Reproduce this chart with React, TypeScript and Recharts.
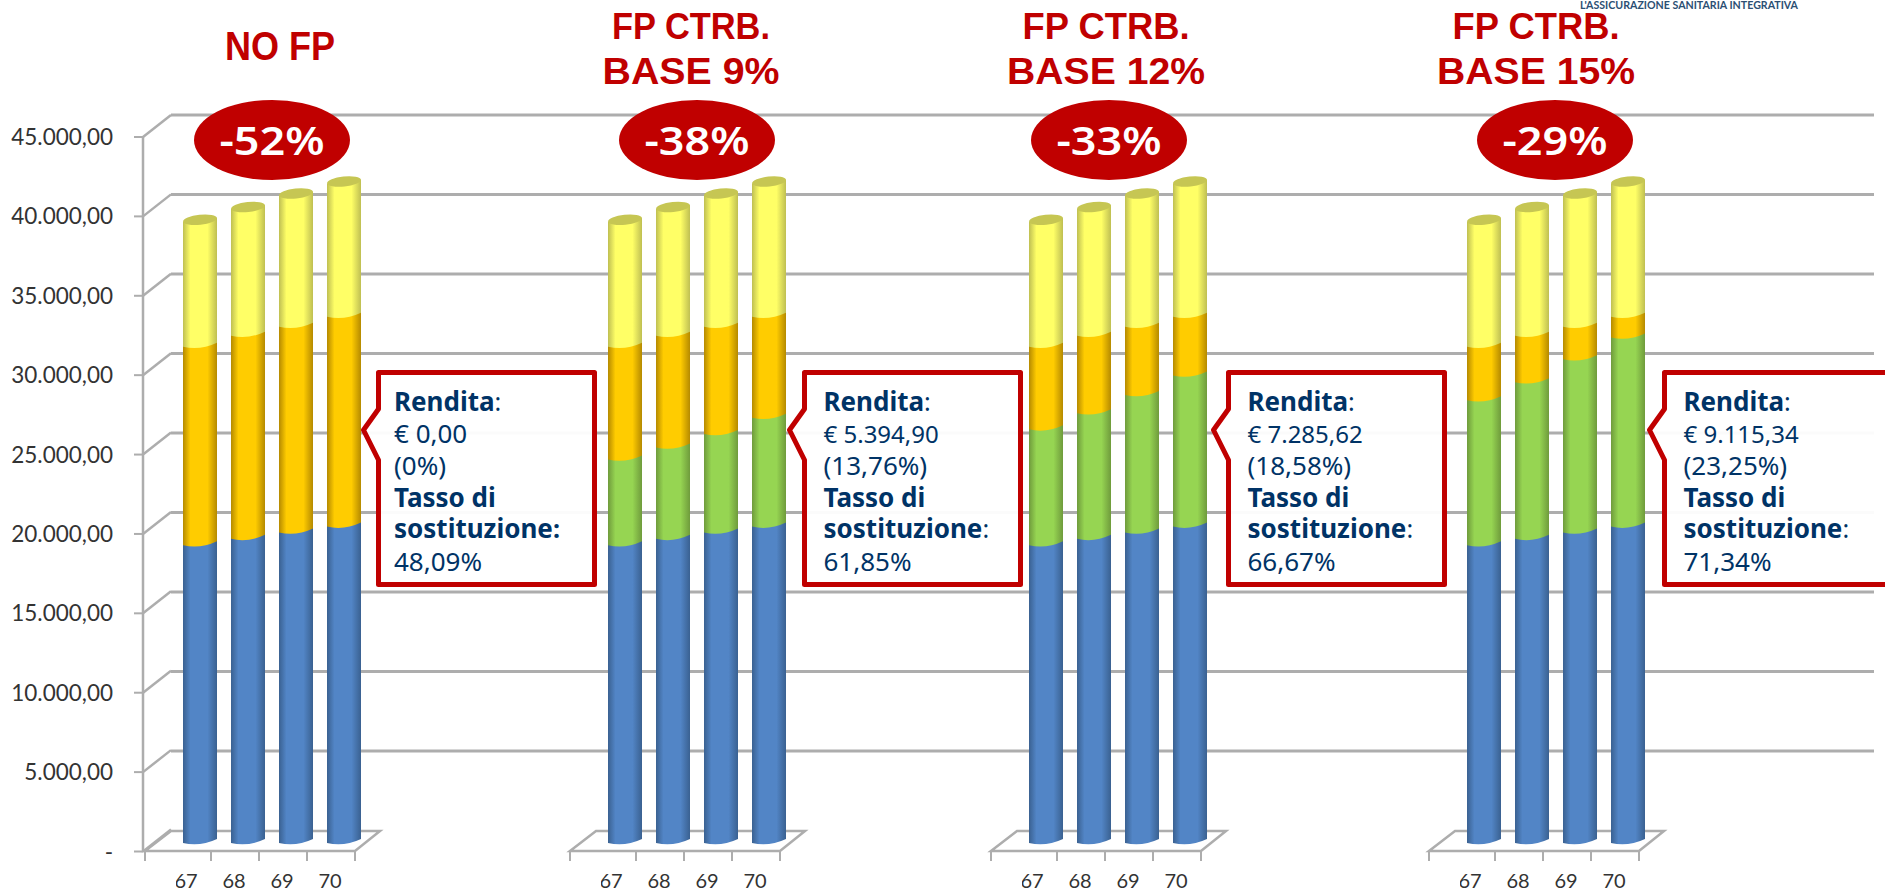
import React from 'react';
import { BarChart, Bar, XAxis, YAxis, CartesianGrid } from 'recharts';

const ages = ['67', '68', '69', '70'];
const pubblica = [18730, 19130, 19530, 19900];
const gapBase = [31210, 31905, 32470, 33100];
const ultimo = [7990, 8095, 8380, 8500];

const renditaNoFp = [0, 0, 0, 0];
const rendita9 = [5395, 5750, 6200, 6850];
const rendita12 = [7285, 7900, 8650, 9500];
const rendita15 = [9115, 9850, 10900, 11900];

const yTicks = [0, 5000, 10000, 15000, 20000, 25000, 30000, 35000, 40000, 45000];
const gridTicks = yTicks.slice(1);

const panelTitles = [['NO FP'], ['FP CTRB.', 'BASE 9%'], ['FP CTRB.', 'BASE 12%'], ['FP CTRB.', 'BASE 15%']];
const panelDrops = ['-52%', '-38%', '-33%', '-29%'];
const panelRendite = [renditaNoFp, rendita9, rendita12, rendita15];
const renditaLabels = ['€ 0,00', '€ 5.394,90', '€ 7.285,62', '€ 9.115,34'];
const renditaShares = ['(0%)', '(13,76%)', '(18,58%)', '(23,25%)'];
const tassi = ['48,09%', '61,85%', '66,67%', '71,34%'];

const panelOffsets = [0, 425, 846, 1284];
const titleCentres = [280, 691, 1106, 1536];
const dropCentres = [272, 697, 1109, 1555];
const calloutLefts = [376, 802, 1226, 1662];
const calloutWidths = [216, 216, 216, 260];

const W = 1885;
const H = 893;
const RED = '#C00000';
const NAVY = '#003366';
const GRID = '#adadad';
const SANS = '"Noto Sans", sans-serif';

const fmtTick = (v: number) =>
  v === 0 ? '-' : `${v.toLocaleString('de-DE')},00`;

const Gradient = ({ id, edge, mid }: { id: string; edge: string; mid: string }) => (
  <linearGradient id={id} x1="0" y1="0" x2="1" y2="0">
    <stop offset="0" stopColor={edge} />
    <stop offset="0.22" stopColor={mid} />
    <stop offset="0.72" stopColor={mid} />
    <stop offset="1" stopColor={edge} />
  </linearGradient>
);

const Cylinder = ({ x, y, width, height, fill, cap }: any) => {
  if (!height || height <= 0) return null;
  const bottom = y + height - 2;
  const r = width / 2;
  const top = cap ? y : y - 6;
  const d = `M${x},${cap ? y + 2 : top} L${x + width},${cap ? y - 2 : top} L${x + width},${bottom - 2} Q${x + r},${bottom + 6} ${x},${bottom + 2} Z`;
  return (
    <g>
      <path d={d} fill={fill} />
      {cap && (
        <ellipse
          cx={x + r}
          cy={y}
          rx={r}
          ry={5}
          fill="#c6c653"
          transform={`rotate(-6 ${x + r} ${y})`}
        />
      )}
    </g>
  );
};

const AgeTick = ({ x, y, payload }: any) => (
  <g>
    <line x1={x + 11} x2={x + 11} y1={y + 8} y2={y + 18} stroke={GRID} strokeWidth={2} />
    <text x={x - 14} y={y + 45} textAnchor="middle" fontFamily="Lato, sans-serif" fontSize={20} fill="#333">
      {payload.value}
    </text>
  </g>
);

const ValueTick = ({ y, payload }: any) => (
  <g>
    <line x1={134} x2={143} y1={y} y2={y} stroke={GRID} strokeWidth={2} />
    <line x1={143} x2={171} y1={y} y2={y - 22} stroke={GRID} strokeWidth={2.5} />
    <text x={113} y={y + 8} textAnchor="end" fontFamily="Lato, sans-serif" fontSize={22.5} fill="#333">
      {fmtTick(payload.value)}
    </text>
  </g>
);

const Floor = ({ dx }: { dx: number }) => (
  <g>
    <polygon
      points={`${145 + dx},851 ${171 + dx},831 ${380 + dx},831 ${355 + dx},851`}
      fill="#fff"
      stroke={GRID}
      strokeWidth={2.5}
    />
    <line x1={145 + dx} x2={145 + dx} y1={851} y2={861} stroke={GRID} strokeWidth={2} />
  </g>
);

const Panel = ({ index }: { index: number }) => {
  const green = panelRendite[index];
  const data = ages.map((age, i) => ({
    age,
    pubblica: pubblica[i],
    rendita: green[i],
    gap: gapBase[i] - pubblica[i] - green[i],
    ultimo: ultimo[i],
  }));
  return (
    <div style={{ position: 'absolute', left: 176 + panelOffsets[index], top: 0 }}>
      <BarChart
        width={192}
        height={H}
        data={data}
        margin={{ top: 127.5, right: 0, bottom: 0, left: 0 }}
        barCategoryGap={7}
      >
        <XAxis
          dataKey="age"
          axisLine={false}
          tickLine={false}
          tickSize={0}
          tickMargin={0}
          height={50}
          interval={0}
          tick={<AgeTick />}
        />
        <YAxis hide domain={[0, 45000]} />
        <Bar dataKey="pubblica" stackId="a" fill="url(#gBlue)" isAnimationActive={false} shape={<Cylinder />} />
        <Bar dataKey="rendita" stackId="a" fill="url(#gGreen)" isAnimationActive={false} shape={<Cylinder />} />
        <Bar dataKey="gap" stackId="a" fill="url(#gOrange)" isAnimationActive={false} shape={<Cylinder />} />
        <Bar dataKey="ultimo" stackId="a" fill="url(#gYellow)" isAnimationActive={false} shape={<Cylinder cap />} />
      </BarChart>
    </div>
  );
};

const Callout = ({ index }: { index: number }) => {
  const l = calloutLefts[index] + 2.5;
  const r = l + calloutWidths[index];
  const t = 372.5;
  const b = 584.5;
  const tx = l + (index === 0 ? 15.5 : 19);
  const points = `${l},${t} ${r},${t} ${r},${b} ${l},${b} ${l},460 ${l - 15},430 ${l},409`;
  const text = { fontFamily: SANS, fontSize: 25, fill: NAVY };
  const bold = { fontWeight: 700, fontSize: 26 };
  return (
    <g>
      <polygon points={points} fill="rgba(255,255,255,0.95)" stroke={RED} strokeWidth={5} strokeLinejoin="round" />
      <text x={tx} y={411} {...text}>
        <tspan {...bold}>Rendita</tspan>:
      </text>
      <text x={tx} y={443} {...text} fontSize={index === 0 ? 26 : 24}>{renditaLabels[index]}</text>
      <text x={tx} y={475} {...text} fontSize={26}>{renditaShares[index]}</text>
      <text x={tx} y={507} {...text} {...bold}>Tasso di</text>
      <text x={tx} y={538} {...text}>
        <tspan {...bold}>sostituzione</tspan>
        <tspan fontWeight={index === 0 ? 700 : 400}>:</tspan>
      </text>
      <text x={tx} y={571} {...text} fontSize={26}>{tassi[index]}</text>
    </g>
  );
};

const Title = ({ index }: { index: number }) => {
  const lines = panelTitles[index];
  const cx = titleCentres[index];
  const text = { x: cx, textAnchor: 'middle' as const, fontFamily: '"Liberation Sans", sans-serif', fontWeight: 700, fontSize: 37, fill: RED, lengthAdjust: 'spacingAndGlyphs' as const };
  if (lines.length === 1) {
    return <text {...text} y={60} fontSize={40} textLength={110}>{lines[0]}</text>;
  }
  return (
    <g>
      <text {...text} y={39} textLength={index === 1 ? 158 : 167}>{lines[0]}</text>
      <text {...text} y={84} textLength={index === 1 ? 177 : 198}>{lines[1]}</text>
    </g>
  );
};

export default function App() {
  const overlay: React.CSSProperties = { position: 'absolute', left: 0, top: 0 };
  return (
    <div style={{ position: 'absolute', left: 0, top: 0, width: W, height: H, overflow: 'hidden', background: '#fff' }}>
      {/* back wall lines sit 28px right and 22px up from the front axis */}
      <div style={overlay}>
        <BarChart width={W} height={H} data={[{ age: '', v: 0 }]} margin={{ top: 115, right: 11, bottom: 62.5, left: 171 }}>
          <CartesianGrid vertical={false} stroke={GRID} strokeWidth={3} syncWithTicks />
          <XAxis dataKey="age" hide />
          <YAxis hide domain={[0, 45000]} ticks={gridTicks} />
          <Bar dataKey="v" fill="none" isAnimationActive={false} />
        </BarChart>
      </div>

      <svg width={W} height={H} style={overlay}>
        <defs>
          <Gradient id="gBlue" edge="#3a6191" mid="#5285c6" />
          <Gradient id="gGreen" edge="#6f9b3c" mid="#96d552" />
          <Gradient id="gOrange" edge="#b58a00" mid="#ffcc00" />
          <Gradient id="gYellow" edge="#bfbf52" mid="#ffff66" />
        </defs>
        {panelOffsets.map((dx) => (
          <Floor key={dx} dx={dx} />
        ))}
      </svg>

      <div style={overlay}>
        <BarChart width={300} height={H} data={[{ age: '', v: 0 }]} margin={{ top: 137, right: 0, bottom: 41.5, left: 0 }}>
          <XAxis dataKey="age" hide />
          <YAxis
            width={143}
            domain={[0, 45000]}
            ticks={yTicks}
            interval={0}
            axisLine={{ stroke: GRID, strokeWidth: 2.5 }}
            tickLine={false}
            tick={<ValueTick />}
          />
          <Bar dataKey="v" fill="none" isAnimationActive={false} />
        </BarChart>
      </div>

      {panelOffsets.map((_, i) => (
        <Panel key={i} index={i} />
      ))}

      <svg width={W} height={H} style={overlay}>
        <text x={1580} y={9} fontFamily="Lato, sans-serif" fontWeight={700} fontSize={12} fill="#2b4f73" textLength={218} lengthAdjust="spacingAndGlyphs">
          L'ASSICURAZIONE SANITARIA INTEGRATIVA
        </text>
        {panelTitles.map((_, i) => (
          <Title key={i} index={i} />
        ))}
        {panelDrops.map((label, i) => (
          <g key={label}>
            <ellipse cx={dropCentres[i]} cy={140} rx={78} ry={40} fill={RED} />
            <text
              x={dropCentres[i]}
              y={155}
              textAnchor="middle"
              fontFamily={SANS}
              fontWeight={600}
              fontSize={40}
              fill="#fff"
              textLength={105}
              lengthAdjust="spacingAndGlyphs"
            >
              {label}
            </text>
          </g>
        ))}
        {panelDrops.map((_, i) => (
          <Callout key={i} index={i} />
        ))}
      </svg>
    </div>
  );
}
